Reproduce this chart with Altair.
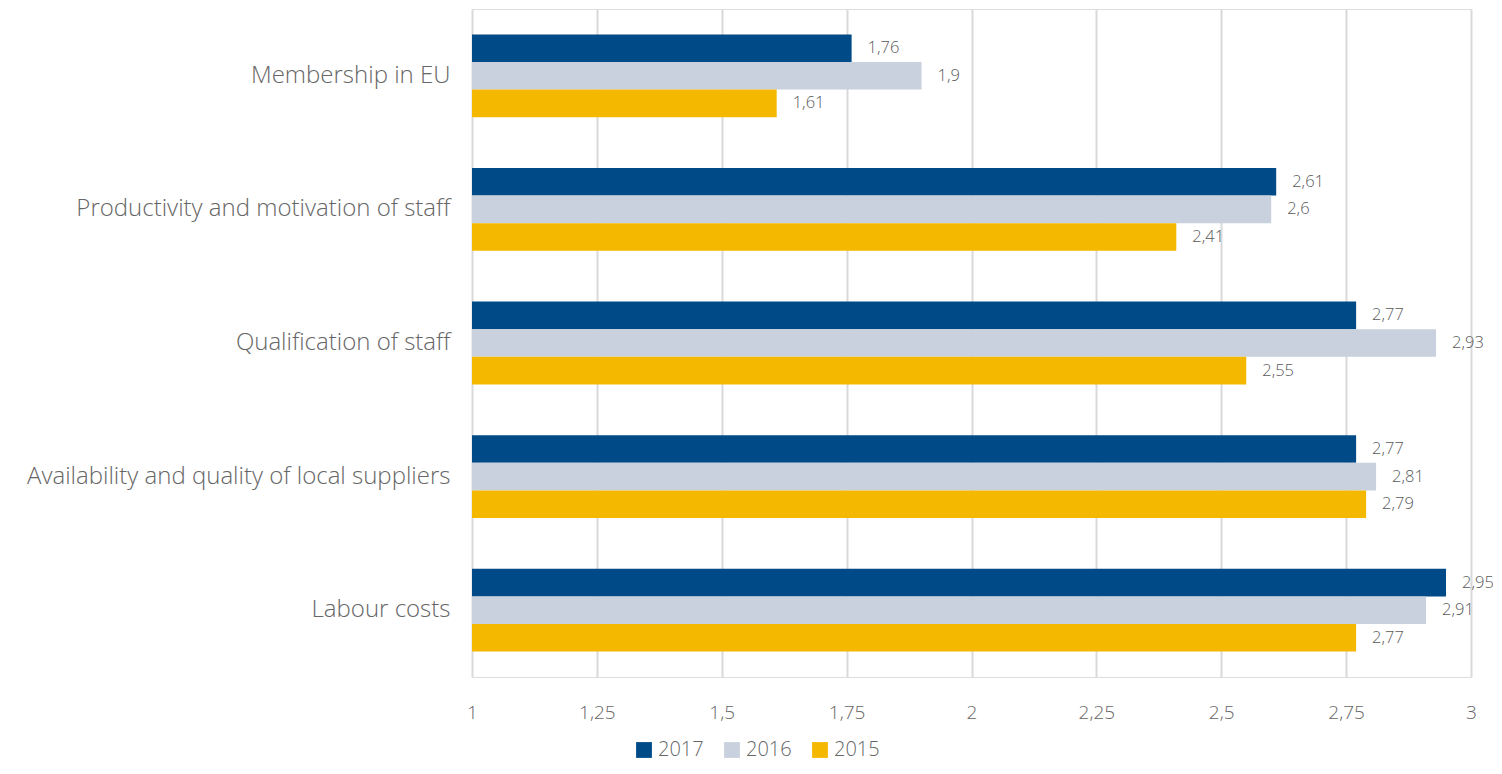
import altair as alt
import pandas as pd

categories = ["Membership in EU", "Productivity and motivation of staff", "Qualification of staff",
              "Availability and quality of local suppliers", "Labour costs"]
years = ["2017", "2016", "2015"]
v2017 = [1.76, 2.61, 2.77, 2.77, 2.95]
v2016 = [1.9, 2.6, 2.93, 2.81, 2.91]
v2015 = [1.61, 2.41, 2.55, 2.79, 2.77]
colors = ["#004A88", "#C8D1DD", "#F5B800"]
ticks = [1, 1.25, 1.5, 1.75, 2, 2.25, 2.5, 2.75, 3]

rows = []
for i, c in enumerate(categories):
    for y, vals in zip(years, [v2017, v2016, v2015]):
        rows.append({"category": c, "year": y, "value": vals[i], "base": 1})
df = pd.DataFrame(rows)

FONT = "Open Sans"
W = 300

y_enc = alt.Y("category:N", sort=categories,
              scale=alt.Scale(paddingInner=0.38, paddingOuter=0.19),
              axis=alt.Axis(title=None, domain=False, ticks=False, labelFontSize=24,
                            labelColor="#666666", labelFont=FONT, labelFontWeight=W,
                            labelPadding=22, labelLimit=500, grid=False))
yoff = alt.YOffset("year:N", sort=years, scale=alt.Scale(paddingInner=0, paddingOuter=0))

base = alt.Chart(df)

bars = base.mark_bar().encode(
    x=alt.X("value:Q", scale=alt.Scale(domain=[1, 3], zero=False, nice=False),
            axis=alt.Axis(title=None, values=ticks, domain=False, ticks=False,
                          labelExpr="replace(toString(datum.value), '.', ',')",
                          labelFontSize=19, labelColor="#666666", labelFont=FONT,
                          labelFontWeight=W, labelFlush=False,
                          labelPadding=26, grid=True, gridColor="#D9D9D9", gridWidth=2)),
    x2="base:Q",
    y=y_enc,
    yOffset=yoff,
    color=alt.Color("year:N", sort=years,
                    scale=alt.Scale(domain=years, range=colors),
                    legend=alt.Legend(title=None, orient="none", legendX=162, legendY=731,
                                      direction="horizontal", symbolType="square",
                                      symbolSize=250, symbolStrokeWidth=0,
                                      labelFontSize=20, labelColor="#666666", labelFont=FONT,
                                      labelFontWeight=W, columnPadding=18, labelOffset=4)),
)

labels = base.mark_text(align="left", baseline="middle", dx=16, fontSize=16.5,
                        color="#595959", font=FONT, fontWeight=W).transform_calculate(
    label="replace(toString(datum.value), '.', ',')"
).encode(
    x="value:Q",
    y=alt.Y("category:N", sort=categories),
    yOffset=yoff,
    text="label:N",
)

chart = alt.layer(bars, labels).properties(
    width=999, height=668,
    autosize=alt.AutoSizeParams(type="none"),
    padding={"left": 464, "top": 1, "right": 22, "bottom": 89},
).configure_view(stroke=None).configure(background="white")

chart.save("out.html", embed_options={"renderer": "svg", "actions": False})
